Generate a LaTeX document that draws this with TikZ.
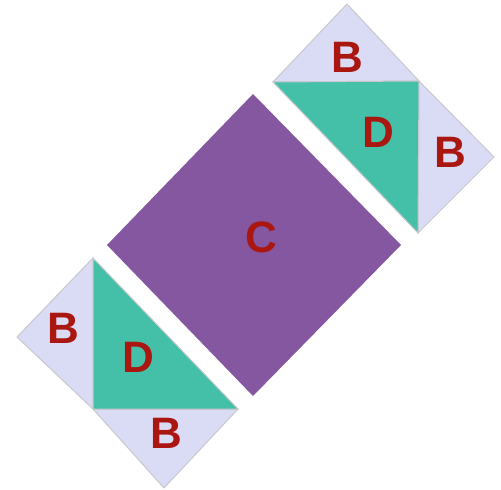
\documentclass[tikz,border=0pt]{standalone}
\usepackage{fontspec}
\setmainfont{Liberation Sans}
\definecolor{lav}{RGB}{218,220,245}
\definecolor{grn}{RGB}{69,192,168}
\definecolor{pur}{RGB}{132,87,160}
\definecolor{lbl}{RGB}{170,22,16}
\definecolor{edge}{RGB}{200,200,205}
\tikzset{
  lavpiece/.style={fill=lav, draw=edge, line width=1pt, line join=miter},
  grnpiece/.style={fill=grn, draw=edge, line width=1pt},
  purpiece/.style={fill=pur, draw=none},
  lbltext/.style={text=lbl, font=\fontsize{44}{44}\selectfont\bfseries, inner sep=0pt, anchor=center}
}
\begin{document}
\begin{tikzpicture}[x=1pt,y=-1pt]
\useasboundingbox (0,0) rectangle (501,490);
% purple square C
\fill[purpiece] (253,94) -- (401,245) -- (253,396) -- (107,245) -- cycle;
% upper right group
\filldraw[lavpiece] (273,82) -- (347,4) -- (419,81) -- cycle;
\filldraw[lavpiece] (419,81) -- (494,157) -- (418,233) -- cycle;
\filldraw[grnpiece] (273,82) -- (419,81) -- (418,233) -- cycle;
% lower left group
\filldraw[lavpiece] (93,258) -- (17,337) -- (93,409) -- cycle;
\filldraw[lavpiece] (93,409) -- (164,488) -- (238,409) -- cycle;
\filldraw[grnpiece] (93,258) -- (93,409) -- (238,409) -- cycle;
% labels
\node[lbltext] (c) at (261.5,237) {C};
\node[lbltext] (b1) at (347,57) {B};
\node[lbltext] (d1) at (378,132) {D};
\node[lbltext] (b2) at (450,152) {B};
\node[lbltext] (b3) at (63,328) {B};
\node[lbltext] (d2) at (138,357) {D};
\node[lbltext] (b4) at (166,433) {B};
\end{tikzpicture}
\end{document}
